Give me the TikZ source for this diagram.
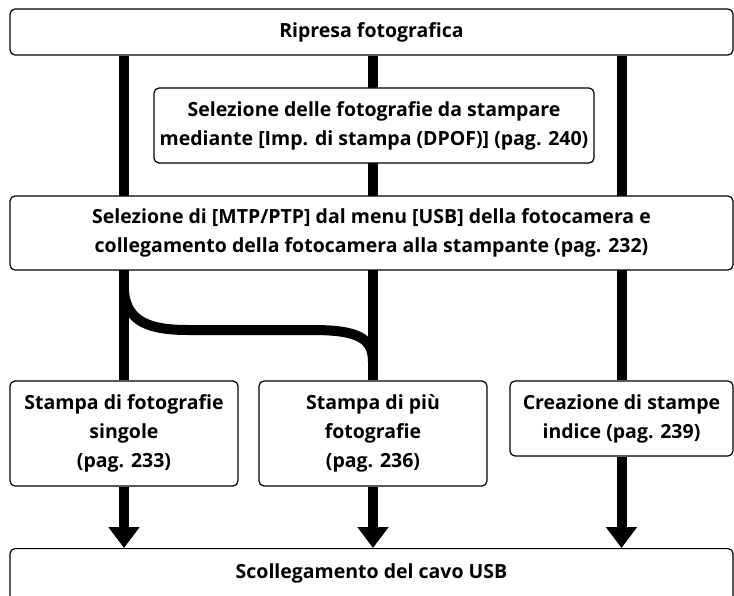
\documentclass[tikz,border=0pt]{standalone}
\usepackage{fontspec}
\setsansfont{Open Sans}
\usetikzlibrary{positioning,shapes,arrows.meta,backgrounds}

\tikzset{
    flowbox/.style={draw, rounded corners=5pt, line width=1.2pt, fill=white, align=center,
        font=\sffamily\bfseries\fontsize{19.5}{29}\selectfont, inner sep=0pt},
    bar/.style={line width=10pt},
    bararrow/.style={bar, -{Triangle[width=30pt,length=21pt]}}
}

\begin{document}
\begin{tikzpicture}[x=1pt,y=-1pt]
    \useasboundingbox (0,0) rectangle (734,596);

    % Boxes
    \node[flowbox, minimum width=723pt, minimum height=46pt] (shoot) at (371.5,32) {Ripresa fotografica};
    \node[flowbox, minimum width=440pt, minimum height=75pt] (dpof) at (374,125.5)
        {Selezione delle fotografie da stampare\\mediante [Imp. di stampa (DPOF)] (pag. 240)};
    \node[flowbox, minimum width=723pt, minimum height=74pt] (connect) at (371.5,233)
        {Selezione di [MTP/PTP] dal menu [USB] della fotocamera e\\collegamento della fotocamera alla stampante (pag. 232)};
    \node[flowbox, minimum width=228pt, minimum height=105pt] (single) at (124,433.5)
        {Stampa di fotografie\\singole\\(pag. 233)};
    \node[flowbox, minimum width=228pt, minimum height=105pt] (multi) at (373,433.5)
        {Stampa di più\\fotografie\\(pag. 236)};
    \node[flowbox, minimum width=223pt, minimum height=75pt] (index) at (621.5,418.5)
        {Creazione di stampe\\indice (pag. 239)};
    \node[flowbox, anchor=north, minimum width=723pt, inner ysep=8pt, text height=22pt, text depth=40pt] (unplug)
        at (371.5,548) {Scollegamento del cavo USB};

    % Bars behind the boxes
    \begin{scope}[on background layer]
        \foreach \col in {single,multi,index}
            \draw[bar] (shoot.south -| \col.north) -- (\col.north);
        \coordinate (forkL) at (124,292);
        \coordinate (forkM) at (373,362);
        \draw[bar] (forkL) .. controls (127,322) and (150,330) .. (188,330) -- (312,330)
            .. controls (358,330) and (373,338) .. (forkM);
    \end{scope}

    % Arrows to the last step
    \foreach \col in {single,multi,index}
        \draw[bararrow] (\col.south) -- (unplug.north -| \col.south);
\end{tikzpicture}
\end{document}
